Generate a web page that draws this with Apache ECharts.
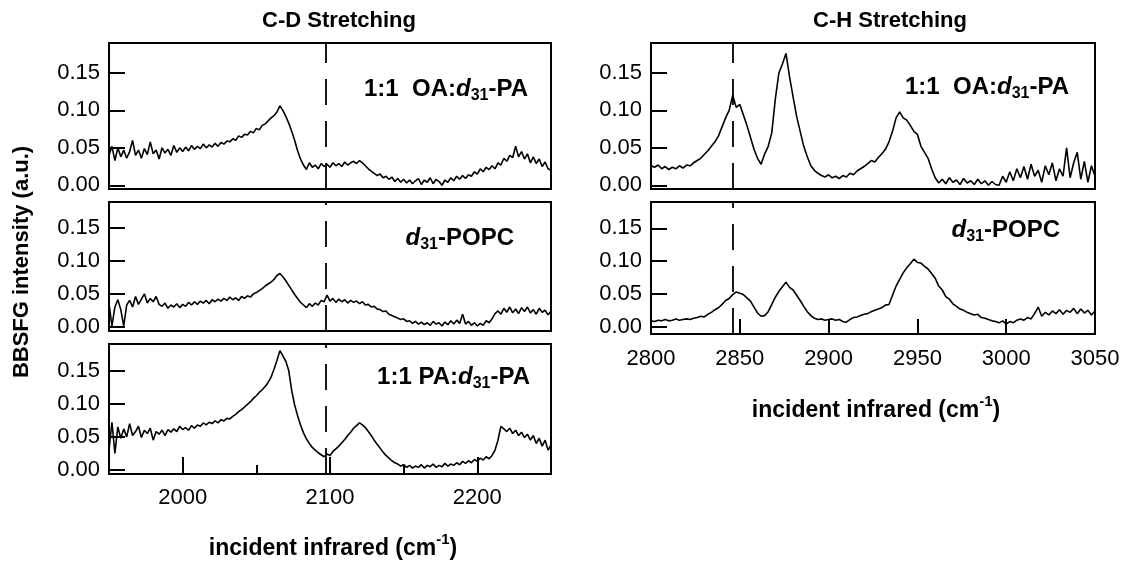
<!DOCTYPE html>
<html>
<head>
<meta charset="utf-8">
<script src="https://cdn.jsdelivr.net/npm/echarts@6/dist/echarts.min.js"></script>
<style>
html,body{margin:0;padding:0;background:#fff;}
#chart{width:1123px;height:567px;}
</style>
</head>
<body>
<div id="chart"></div>
<script>
// ---- data ----
const cdStart = 1950, chStart = 2800, stepCm = 2;
const cdRange = [1950, 2250];
const chRange = [2800, 3050];
const yTicks = [0, 0.05, 0.10, 0.15];
const cdXTicks = [2000, 2100, 2200];
const cdXMinorTicks = [2050, 2150];
const chXLabels = [2800, 2850, 2900, 2950, 3000, 3050];
const chXTicks = [2850, 2900, 2950, 3000];
const cdMarker = 2097;
const chMarker = 2846;

// C-D stretching, 1:1 OA:d31-PA
const cdOA = [
.040,.052,.033,.050,.038,.047,.036,.045,.060,.040,
.047,.036,.049,.041,.058,.042,.047,.035,.050,.043,
.048,.040,.053,.044,.050,.045,.051,.046,.053,.048,
.052,.049,.055,.050,.054,.051,.056,.052,.057,.055,
.059,.058,.062,.060,.066,.064,.068,.067,.072,.070,
.076,.074,.080,.082,.086,.090,.093,.098,.106,.100,
.092,.083,.072,.060,.046,.035,.027,.021,.030,.024,
.027,.022,.029,.025,.028,.024,.030,.026,.029,.025,
.031,.027,.030,.032,.029,.033,.030,.026,.022,.019,
.016,.013,.015,.010,.012,.008,.011,.005,.009,.004,
.008,.003,.007,.002,.006,.009,.001,.007,.004,.010,
.002,.008,.005,.000,.007,.004,.010,.006,.012,.008,
.013,.009,.014,.012,.018,.015,.022,.018,.024,.021,
.026,.022,.030,.027,.036,.032,.040,.037,.052,.038,
.045,.035,.042,.030,.038,.029,.035,.025,.031,.022,
.020];
// C-D stretching, d31-POPC
const cdPOPC = [
.035,.001,.030,.041,.026,.001,.033,.040,.030,.046,
.034,.042,.050,.036,.043,.038,.046,.034,.031,.036,
.028,.033,.030,.035,.029,.034,.031,.037,.033,.038,
.034,.039,.036,.040,.035,.041,.038,.042,.039,.043,
.040,.045,.041,.044,.040,.046,.043,.047,.045,.050,
.052,.055,.058,.062,.065,.068,.072,.078,.081,.076,
.070,.063,.056,.049,.043,.037,.033,.029,.035,.031,
.036,.033,.040,.038,.048,.039,.043,.037,.042,.038,
.041,.036,.040,.037,.039,.035,.038,.033,.034,.030,
.031,.027,.026,.023,.024,.019,.017,.015,.013,.011,
.012,.008,.009,.005,.008,.004,.007,.003,.006,.002,
.008,.004,.006,.001,.007,.003,.009,.004,.010,.005,
.019,.004,.008,.002,.006,.001,.005,.002,.009,.006,
.012,.020,.024,.019,.028,.022,.030,.021,.027,.020,
.029,.023,.030,.021,.026,.019,.028,.022,.025,.018,
.024];
// C-D stretching, 1:1 PA:d31-PA
const cdPA = [
.030,.072,.025,.065,.048,.062,.050,.070,.052,.058,
.066,.049,.060,.055,.063,.045,.058,.054,.060,.052,
.061,.057,.062,.058,.066,.061,.064,.060,.067,.063,
.068,.066,.071,.068,.072,.070,.074,.071,.076,.074,
.078,.077,.081,.084,.088,.091,.095,.099,.103,.108,
.112,.117,.121,.126,.132,.140,.152,.165,.180,.172,
.164,.150,.120,.098,.082,.068,.056,.047,.040,.034,
.030,.026,.023,.020,.024,.022,.028,.032,.036,.041,
.046,.052,.057,.063,.067,.071,.068,.064,.058,.052,
.045,.039,.033,.027,.022,.018,.014,.011,.009,.006,
.008,.004,.007,.003,.006,.004,.008,.003,.007,.005,
.009,.004,.007,.005,.010,.006,.009,.007,.011,.008,
.013,.010,.014,.011,.016,.013,.018,.015,.020,.017,
.022,.030,.045,.066,.062,.058,.063,.055,.060,.052,
.057,.049,.054,.045,.052,.040,.048,.036,.045,.030,
.038];
// C-H stretching, 1:1 OA:d31-PA
const chOA = [
.026,.024,.027,.022,.025,.021,.024,.022,.026,.023,
.027,.026,.030,.033,.036,.041,.046,.052,.058,.066,
.078,.090,.100,.120,.104,.108,.094,.080,.064,.048,
.036,.028,.042,.052,.070,.115,.150,.162,.176,.145,
.118,.092,.072,.052,.038,.026,.020,.016,.013,.011,
.014,.010,.012,.009,.013,.011,.016,.014,.019,.022,
.025,.029,.033,.031,.037,.042,.048,.058,.072,.090,
.098,.090,.087,.080,.072,.068,.052,.044,.036,.022,
.010,.003,.008,.002,.010,.004,.007,.001,.009,.003,
.006,.001,.008,.002,.006,.000,.005,.001,.000,.012,
.004,.018,.006,.022,.010,.025,.008,.028,.012,.020,
.004,.026,.014,.030,.006,.022,.012,.050,.010,.030,
.044,.008,.032,.004,.026,.012];
// C-H stretching, d31-POPC
const chPOPC = [
.009,.008,.010,.009,.011,.009,.010,.012,.010,.011,
.012,.011,.013,.014,.016,.015,.019,.022,.026,.029,
.034,.040,.043,.049,.053,.051,.049,.044,.039,.030,
.021,.016,.017,.023,.034,.045,.054,.061,.068,.060,
.056,.048,.040,.031,.023,.017,.013,.011,.012,.010,
.011,.012,.010,.011,.008,.007,.011,.014,.015,.017,
.019,.020,.023,.025,.027,.029,.033,.034,.048,.062,
.072,.082,.090,.096,.103,.098,.097,.092,.088,.081,
.074,.062,.056,.046,.042,.035,.031,.027,.025,.022,
.020,.018,.019,.014,.013,.011,.009,.008,.006,.009,
.004,.008,.006,.010,.012,.010,.014,.012,.020,.030,
.016,.022,.018,.024,.020,.026,.019,.025,.022,.028,
.020,.027,.021,.025,.018,.024];

// ---- build ----
function pairs(start, arr) { return arr.map((v, i) => [start + stepCm * i, v]); }

const FONT = '"Liberation Sans", Arial, Helvetica, sans-serif';
const grids = [
  {left: 109, top: 43, width: 442, height: 146},
  {left: 109, top: 202, width: 442, height: 129},
  {left: 109, top: 344, width: 442, height: 130},
  {left: 651, top: 43, width: 444, height: 146},
  {left: 651, top: 202, width: 444, height: 132}
].map(g => Object.assign(g, {show: true, borderColor: '#000', borderWidth: 2, backgroundColor: 'transparent', containLabel: false}));

const panelYMin = [-0.005, -0.0066, -0.006, -0.005, -0.011];
const yMax = 0.19;

const yAxes = panelYMin.map((mn, gi) => ({
  type: 'value', gridIndex: gi, min: mn, max: yMax,
  axisLine: {show: false, onZero: false},
  splitLine: {show: false},
  axisTick: {show: true, inside: true, length: 16, customValues: yTicks, lineStyle: {color: '#000', width: 2}},
  axisLabel: {show: true, customValues: yTicks, margin: 9, color: '#000', fontSize: 22, fontFamily: FONT,
    formatter: v => v.toFixed(2)}
}));

const plainNum = v => String(v);
function hiddenX(gi, range) {
  return {type: 'value', gridIndex: gi, min: range[0], max: range[1], position: 'bottom',
    axisLine: {show: false, onZero: false}, splitLine: {show: false}, axisTick: {show: false}, axisLabel: {show: false}};
}
const xAxes = [
  hiddenX(0, cdRange),
  hiddenX(1, cdRange),
  {type: 'value', gridIndex: 2, min: cdRange[0], max: cdRange[1], position: 'bottom',
    axisLine: {show: false, onZero: false}, splitLine: {show: false},
    axisTick: {show: true, inside: true, length: 17, customValues: cdXTicks, lineStyle: {color: '#000', width: 2}},
    axisLabel: {show: true, customValues: cdXTicks, margin: 13, color: '#000', fontSize: 22, fontFamily: FONT, formatter: plainNum}},
  hiddenX(3, chRange),
  {type: 'value', gridIndex: 4, min: chRange[0], max: chRange[1], position: 'bottom',
    axisLine: {show: false, onZero: false}, splitLine: {show: false},
    axisTick: {show: true, inside: true, length: 15, customValues: chXTicks, lineStyle: {color: '#000', width: 2}},
    axisLabel: {show: true, customValues: chXLabels, margin: 14, color: '#000', fontSize: 22, fontFamily: FONT, formatter: plainNum}},
  {type: 'value', gridIndex: 2, min: cdRange[0], max: cdRange[1], position: 'bottom',
    axisLine: {show: false, onZero: false}, splitLine: {show: false}, axisLabel: {show: false},
    axisTick: {show: true, inside: true, length: 9, customValues: cdXMinorTicks, lineStyle: {color: '#000', width: 2}}}
];

function marker(x) {
  return {symbol: ['none', 'none'], silent: true, animation: false,
    label: {show: false},
    lineStyle: {color: '#000', width: 1.8, type: [26, 16]},
    data: [{xAxis: x}]};
}
function spec(name, gi, start, arr, mk) {
  return {name, type: 'line', xAxisIndex: gi, yAxisIndex: gi, data: pairs(start, arr),
    showSymbol: false, symbol: 'none', animation: false, clip: true,
    lineStyle: {color: '#000', width: 1.6}, markLine: marker(mk)};
}
const series = [
  spec('cdOA', 0, cdStart, cdOA, cdMarker),
  spec('cdPOPC', 1, cdStart, cdPOPC, cdMarker),
  spec('cdPA', 2, cdStart, cdPA, cdMarker),
  spec('chOA', 3, chStart, chOA, chMarker),
  spec('chPOPC', 4, chStart, chPOPC, chMarker)
];

const mainRich = {
  b: {fontSize: 24, fontWeight: 'bold', fontFamily: FONT, color: '#000'},
  i: {fontSize: 24, fontWeight: 'bold', fontStyle: 'italic', fontFamily: FONT, color: '#000'},
  s: {fontSize: 16, fontWeight: 'bold', fontFamily: FONT, color: '#000', padding: [13, 0, 0, 0]}
};
const titleRich = {
  b: {fontSize: 22, fontWeight: 'bold', fontFamily: FONT, color: '#000'},
  u: {fontSize: 14, fontWeight: 'bold', fontFamily: FONT, color: '#000', padding: [0, 0, 18, 0]}
};
const axisTitleRich = {
  b: {fontSize: 23, fontWeight: 'bold', fontFamily: FONT, color: '#000'},
  u: {fontSize: 15, fontWeight: 'bold', fontFamily: FONT, color: '#000', padding: [0, 0, 19, 0]}
};
function txt(x, y, text, rich, align, rot) {
  return {type: 'text', x, y, rotation: rot || 0, silent: true,
    style: {text, rich, align: align || 'center', verticalAlign: 'middle', fill: '#000',
      font: 'bold 22px ' + FONT}};
}
const graphic = [
  txt(339, 21, '{b|C-D Stretching}', titleRich),
  txt(890, 21, '{b|C-H Stretching}', titleRich),
  txt(22, 262, '{b|BBSFG intensity (a.u.)}', titleRich, 'center', Math.PI / 2),
  txt(333, 549, '{b|incident infrared (cm}{u|-1}{b|)}', axisTitleRich),
  txt(876, 411, '{b|incident infrared (cm}{u|-1}{b|)}', axisTitleRich),
  txt(528, 89, '{b|1:1  OA:}{i|d}{s|31}{b|-PA}', mainRich, 'right'),
  txt(514, 238, '{i|d}{s|31}{b|-POPC}', mainRich, 'right'),
  txt(530, 377, '{b|1:1 PA:}{i|d}{s|31}{b|-PA}', mainRich, 'right'),
  txt(1069, 87, '{b|1:1  OA:}{i|d}{s|31}{b|-PA}', mainRich, 'right'),
  txt(1060, 230, '{i|d}{s|31}{b|-POPC}', mainRich, 'right')
];

const chart = echarts.init(document.getElementById('chart'), null, {renderer: 'canvas'});
chart.setOption({
  backgroundColor: '#fff',
  animation: false,
  grid: grids,
  xAxis: xAxes,
  yAxis: yAxes,
  series,
  graphic
});
</script>
</body>
</html>
